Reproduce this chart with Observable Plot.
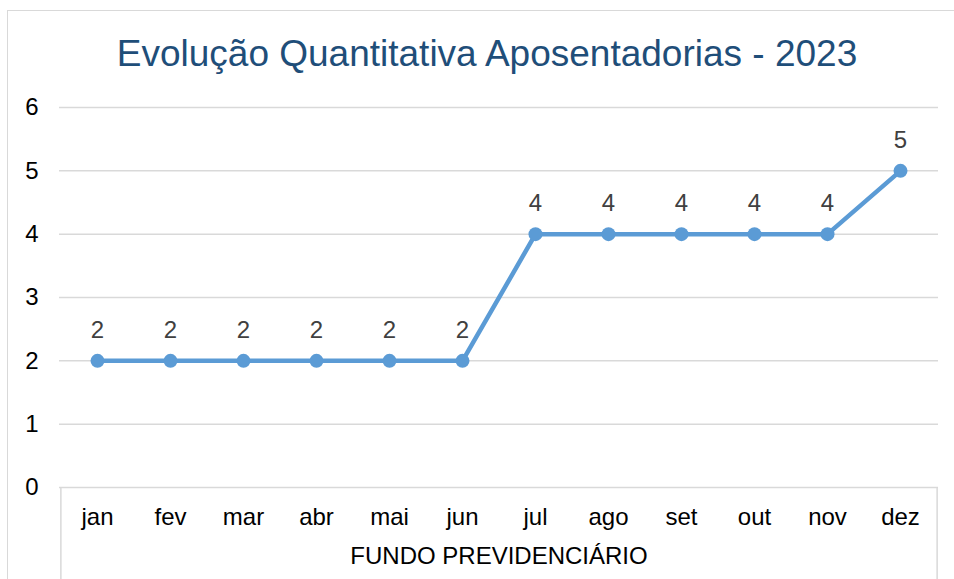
<!DOCTYPE html>
<html>
<head>
<meta charset="utf-8">
<script src="https://cdn.jsdelivr.net/npm/d3@7"></script>
<script src="https://cdn.jsdelivr.net/npm/@observablehq/plot@0.6"></script>
<style>
  body { margin: 0; background: #fff; font-family: "Liberation Sans", Arial, sans-serif; }
  #wrap { position: relative; width: 954px; height: 579px; overflow: hidden; background: #fff; }
  #chart { position: absolute; left: 0; top: 0; }
  #chart svg { background: transparent !important; }
  #frame { position: absolute; left: 7px; top: 10px; width: 980px; height: 620px; border: 1.5px solid #d9d9d9; pointer-events: none; }
  #title { position: absolute; left: 20px; top: 35px; width: 934px; text-align: center; font-size: 37px; line-height: 1; color: #1F4E79; white-space: nowrap; }
</style>
</head>
<body>
<div id="wrap">
  <div id="chart"></div>
  <div id="frame"></div>
  <div id="title"></div>
</div>
<script>
const months = ["jan","fev","mar","abr","mai","jun","jul","ago","set","out","nov","dez"];
const values = [2,2,2,2,2,2,4,4,4,4,4,5];
const yTicks = [0,1,2,3,4,5,6];
const titleText = "Evolução Quantitativa Aposentadorias - 2023";
const xLabel = "FUNDO PREVIDENCIÁRIO";

document.getElementById("title").textContent = titleText;

const data = months.map((m, i) => ({month: m, value: values[i]}));

const W = 954, H = 579;
const mL = 59, mR = 16, mT = 107, mB = 92;
const FS = 24;
const step = (W - mL - mR) / months.length;
const yBottom = -mB / ((H - mT - mB) / 6);

const plot = Plot.plot({
  width: W,
  height: H,
  marginLeft: mL,
  marginRight: mR,
  marginTop: mT,
  marginBottom: mB,
  style: {fontFamily: "'Liberation Sans', Arial, sans-serif", fontSize: FS + "px", color: "#000", background: "transparent"},
  x: {type: "point", domain: months, padding: 0.5},
  y: {domain: [0, 6]},
  marks: [
    Plot.ruleY(yTicks, {y: d => d, stroke: "#d9d9d9", strokeWidth: 1.5}),
    Plot.ruleX([months[0]], {x: d => d, dx: -step / 2, y1: 0, y2: yBottom, stroke: "#d9d9d9", strokeWidth: 1.5}),
    Plot.ruleX([months[months.length - 1]], {x: d => d, dx: step / 2, y1: 0, y2: yBottom, stroke: "#d9d9d9", strokeWidth: 1.5}),
    Plot.lineY(data, {x: "month", y: "value", stroke: "#5B9BD5", strokeWidth: 4.5, strokeLinejoin: "round", strokeLinecap: "round"}),
    Plot.dot(data, {x: "month", y: "value", r: 7, fill: "#5B9BD5", stroke: "none"}),
    Plot.text(data, {x: "month", y: "value", text: d => String(d.value), dy: -30.7, fill: "#404040", fontSize: FS}),
    Plot.axisX({tickSize: 0, tickPadding: 20, fontSize: FS, label: null, fill: "#000"}),
    Plot.axisY({ticks: yTicks, tickSize: 0, tickPadding: 21, fontSize: FS, label: null, fill: "#000", tickFormat: d => String(d)}),
    Plot.text([xLabel], {frameAnchor: "bottom", dy: 76.5, fill: "#000", fontSize: FS})
  ]
});
document.getElementById("chart").appendChild(plot);
</script>
</body>
</html>
